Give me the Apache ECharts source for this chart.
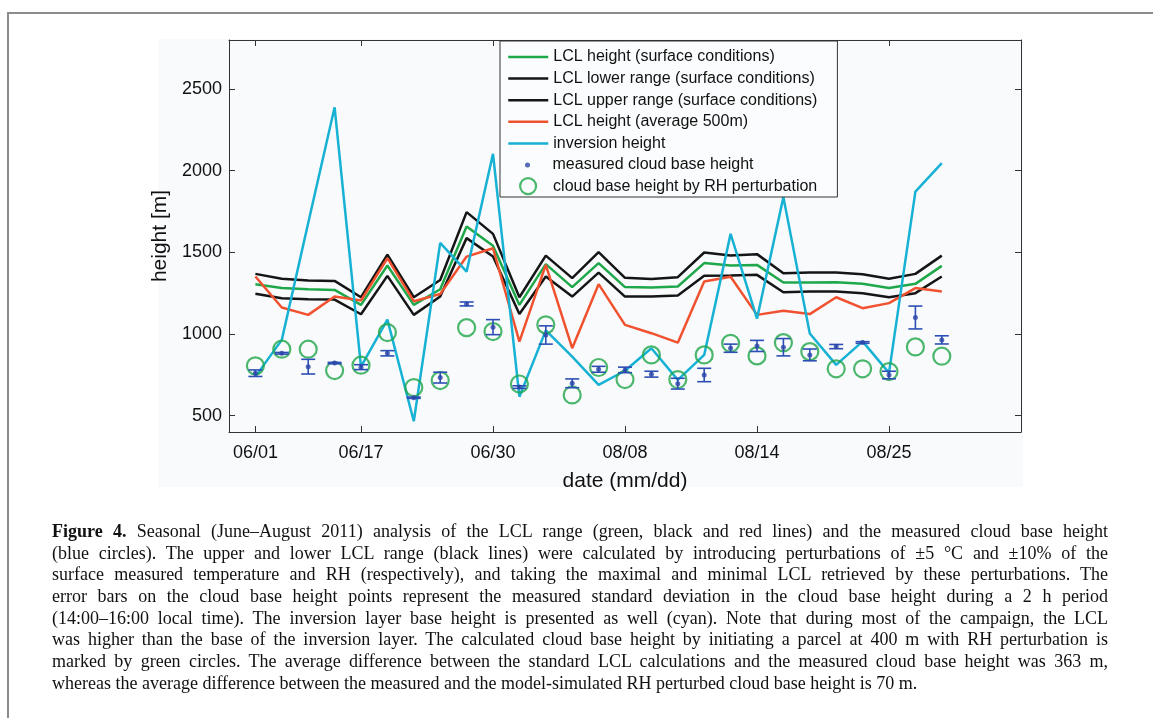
<!DOCTYPE html>
<html>
<head>
<meta charset="utf-8">
<script src="https://cdn.jsdelivr.net/npm/echarts@6/dist/echarts.min.js"></script>
<style>
html,body{margin:0;padding:0;background:#fff;}
#frame{position:absolute;left:7px;top:12px;width:1146px;height:706px;border-top:2px solid #8c8c8c;border-left:2px solid #8c8c8c;box-sizing:border-box;}
#chart{position:absolute;left:0;top:0;width:1153px;height:718px;}
#caption{position:absolute;left:52px;top:521px;width:1056px;font-family:'Liberation Serif','Times New Roman',serif;font-size:18px;line-height:21.67px;color:#111;}
#caption div{text-align:justify;text-align-last:justify;white-space:nowrap;}
#caption div.last{text-align-last:left;}
</style>
</head>
<body>
<div id="frame"></div>
<div id="chart"></div>
<div id="caption">
<div><b>Figure 4.</b> Seasonal (June–August 2011) analysis of the LCL range (green, black and red lines) and the measured cloud base height</div>
<div>(blue circles). The upper and lower LCL range (black lines) were calculated by introducing perturbations of ±5 °C and ±10% of the</div>
<div>surface measured temperature and RH (respectively), and taking the maximal and minimal LCL retrieved by these perturbations. The</div>
<div>error bars on the cloud base height points represent the measured standard deviation in the cloud base height during a 2 h period</div>
<div>(14:00–16:00 local time). The inversion layer base height is presented as well (cyan). Note that during most of the campaign, the LCL</div>
<div>was higher than the base of the inversion layer. The calculated cloud base height by initiating a parcel at 400 m with RH perturbation is</div>
<div>marked by green circles. The average difference between the standard LCL calculations and the measured cloud base height was 363 m,</div>
<div class="last">whereas the average difference between the measured and the model-simulated RH perturbed cloud base height is 70 m.</div>
</div>
<script>
// ---- data (index = observation day order) ----
const dateLabels = ['06/01', '06/17', '06/30', '08/08', '08/14', '08/25'];
const dateIdx = [0, 4, 9, 14, 19, 24];
const yTicks = [500, 1000, 1500, 2000, 2500];

const lclSurface = [1305, 1281, 1274, 1270, 1178, 1419, 1178, 1274, 1658, 1540, 1178, 1428, 1287, 1434, 1287, 1285, 1291, 1434, 1419, 1423, 1315, 1315, 1317, 1307, 1281, 1307, 1417];
const lclLower = [1246, 1219, 1213, 1211, 1121, 1356, 1117, 1229, 1587, 1474, 1123, 1352, 1229, 1376, 1229, 1229, 1235, 1356, 1358, 1362, 1256, 1260, 1260, 1250, 1225, 1250, 1352];
const lclUpper = [1368, 1338, 1327, 1325, 1225, 1485, 1225, 1331, 1746, 1613, 1225, 1480, 1342, 1501, 1344, 1336, 1348, 1499, 1480, 1489, 1372, 1376, 1376, 1366, 1338, 1368, 1480];
const lcl500 = [1352, 1162, 1117, 1229, 1205, 1464, 1201, 1245, 1474, 1525, 953, 1423, 913, 1305, 1056, 1005, 947, 1321, 1350, 1117, 1143, 1122, 1225, 1158, 1189, 1281, 1260];
const inversion = [739, 964, 1680, 2388, 800, 1088, 466, 1558, 1382, 2103, 616, 1022, 862, 688, 775, 913, 719, 872, 1613, 1094, 1838, 1003, 811, 955, 762, 1872, 2046];
const measured = [760, 882, 800, 822, 797, 882, 610, 733, 1184, 1042, 675, 994, 698, 784, 780, 754, 696, 749, 913, 927, 919, 872, 923, 948, 749, 1101, 964];
const measuredStd = [20, 5, 45, 4, 15, 16, 4, 33, 12, 46, 8, 56, 27, 18, 17, 18, 33, 41, 25, 34, 53, 36, 13, 5, 23, 70, 25];
const rhPerturbed = [805, 907, 907, 776, 809, 1009, 672, 715, 1039, 1015, 694, 1056, 627, 795, 721, 872, 721, 872, 943, 866, 947, 892, 787, 787, 770, 921, 864];

const pts = arr => arr.map((v, i) => [i, v]);
const errData = measured.map((v, i) => [i, v - measuredStd[i], v + measuredStd[i]]);

const FONT = "'Liberation Sans', Arial, Helvetica, sans-serif";
const AX = '#333';

const chart = echarts.init(document.getElementById('chart'), null, {renderer: 'canvas'});

function lineSeries(name, data, color) {
  return {
    name, type: 'line', data: pts(data), symbol: 'none', showSymbol: false,
    lineStyle: {color, width: 2.5}, itemStyle: {color}, animation: false,
    xAxisIndex: 0, yAxisIndex: 0
  };
}

const option = {
  backgroundColor: 'transparent',
  animation: false,
  graphic: [{
    type: 'rect', silent: true, z: -10,
    shape: {x: 158, y: 39, width: 865, height: 448},
    style: {fill: '#f9fafc'}
  }],
  grid: {left: 229, right: 132, top: 40, bottom: 286, containLabel: false},
  xAxis: [{
    type: 'value', min: -1, max: 29, position: 'bottom',
    axisLine: {show: true, onZero: false, lineStyle: {color: AX, width: 1}},
    axisTick: {show: true, inside: true, length: 6, lineStyle: {color: AX}, customValues: dateIdx},
    axisLabel: {
      customValues: dateIdx, fontSize: 18, color: '#111', fontFamily: FONT, margin: 12,
      formatter: v => dateLabels[dateIdx.indexOf(v)] || ''
    },
    splitLine: {show: false},
    name: 'date (mm/dd)', nameLocation: 'middle', nameGap: 39,
    nameTextStyle: {fontSize: 21, color: '#111', fontFamily: FONT}
  }, {
    type: 'value', min: -1, max: 29, position: 'top',
    axisLine: {show: true, onZero: false, lineStyle: {color: AX, width: 1}},
    axisTick: {show: true, inside: true, length: 6, lineStyle: {color: AX}, customValues: dateIdx},
    axisLabel: {show: false},
    splitLine: {show: false}
  }],
  yAxis: [{
    type: 'value', min: 400, max: 2800, position: 'left',
    axisLine: {show: true, onZero: false, lineStyle: {color: AX, width: 1}},
    axisTick: {show: true, inside: true, length: 6, lineStyle: {color: AX}, customValues: yTicks},
    axisLabel: {customValues: yTicks, fontSize: 18, color: '#111', fontFamily: FONT, margin: 7,
      formatter: v => String(v)},
    splitLine: {show: false},
    name: 'height [m]', nameLocation: 'middle', nameGap: 44, nameRotate: 90,
    nameTextStyle: {fontSize: 21, color: '#111', fontFamily: FONT}
  }, {
    type: 'value', min: 400, max: 2800, position: 'right',
    axisLine: {show: true, onZero: false, lineStyle: {color: AX, width: 1}},
    axisTick: {show: true, inside: true, length: 6, lineStyle: {color: AX}, customValues: yTicks},
    axisLabel: {show: false},
    splitLine: {show: false}
  }],
  legend: [{
    selectedMode: false, orient: 'vertical', left: 500, top: 41,
    padding: [7, 20, 44.6, 7], itemGap: 3.6, itemWidth: 40, itemHeight: 14,
    borderColor: '#333', borderWidth: 1, backgroundColor: '#fbfcfd',
    lineStyle: {width: 2.5},
    itemStyle: {opacity: 0},
    textStyle: {fontSize: 16, lineHeight: 18, color: '#111', fontFamily: FONT},
    data: ['LCL height (surface conditions)', 'LCL lower range (surface conditions)',
           'LCL upper range (surface conditions)', 'LCL height (average 500m)', 'inversion height']
  }, {
    selectedMode: false, orient: 'vertical', left: 525, top: 156, padding: 0, z: 6,
    itemWidth: 40, itemHeight: 5, icon: 'circle',
    textStyle: {fontSize: 16, lineHeight: 18, color: '#111', fontFamily: FONT},
    data: ['measured cloud base height']
  }, {
    selectedMode: false, orient: 'vertical', left: 519, top: 177, padding: 0, z: 6,
    itemWidth: 40, itemHeight: 16, icon: 'circle',
    itemStyle: {color: 'transparent', borderColor: '#1fa648', borderWidth: 2.2},
    textStyle: {fontSize: 16, lineHeight: 18, color: '#111', fontFamily: FONT},
    data: ['cloud base height by RH perturbation']
  }],
  series: [
    lineSeries('LCL height (surface conditions)', lclSurface, '#1ea84a'),
    lineSeries('LCL lower range (surface conditions)', lclLower, '#151515'),
    lineSeries('LCL upper range (surface conditions)', lclUpper, '#151515'),
    lineSeries('LCL height (average 500m)', lcl500, '#f0522f'),
    lineSeries('inversion height', inversion, '#17b1d4'),
    {
      name: 'cloud base height by RH perturbation', type: 'scatter', data: pts(rhPerturbed),
      symbol: 'circle', symbolSize: 17,
      itemStyle: {color: 'transparent', borderColor: '#1fa648', borderWidth: 2.2},
      z: 3
    },
    {
      name: 'std', type: 'custom', data: errData, z: 4,
      encode: {x: 0, y: [1, 2]},
      renderItem: function (params, api) {
        const x = api.value(0);
        const lo = api.coord([x, api.value(1)]);
        const hi = api.coord([x, api.value(2)]);
        const w = 7;
        const st = {stroke: '#2d4fb5', lineWidth: 1.6};
        return {
          type: 'group',
          children: [
            {type: 'line', shape: {x1: lo[0], y1: lo[1], x2: hi[0], y2: hi[1]}, style: st},
            {type: 'line', shape: {x1: lo[0] - w, y1: lo[1], x2: lo[0] + w, y2: lo[1]}, style: st},
            {type: 'line', shape: {x1: hi[0] - w, y1: hi[1], x2: hi[0] + w, y2: hi[1]}, style: st}
          ]
        };
      }
    },
    {
      name: 'measured cloud base height', type: 'scatter', data: pts(measured),
      symbol: 'circle', symbolSize: 5, itemStyle: {color: '#2a45a8'}, z: 5
    }
  ]
};
chart.setOption(option);
</script>
</body>
</html>
